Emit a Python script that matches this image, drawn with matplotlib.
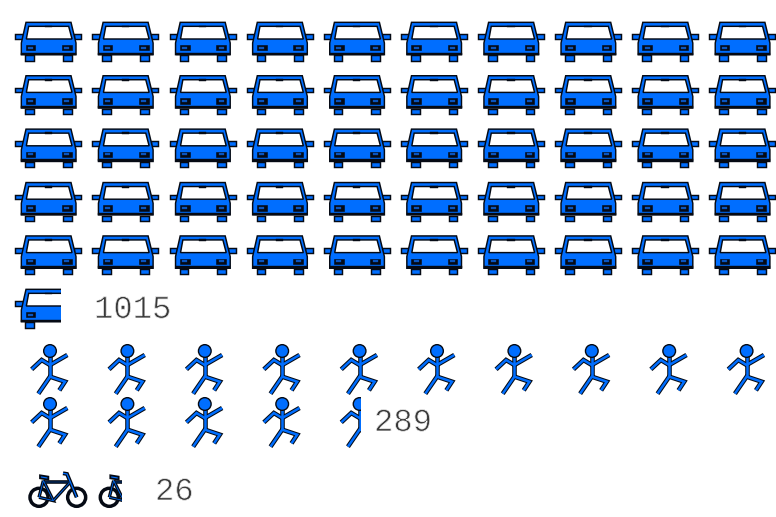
import matplotlib
matplotlib.use("Agg")
import matplotlib.pyplot as plt
import matplotlib.patheffects as pe
from matplotlib.patches import Polygon, Rectangle, Circle
from matplotlib.transforms import Affine2D

categories = ["car", "pedestrian", "bicycle"]
values = [1015, 289, 26]
units_per_icon = 20

BLUE = "#006EFF"
INK = "#050A14"
TEXT = "#3A3A3A"

fig = plt.figure(figsize=(7.76, 5.17), dpi=100)
ax = fig.add_axes([0, 0, 1, 1])
ax.set_xlim(0, 776)
ax.set_ylim(517, 0)
ax.axis("off")


def clipper(x_end):
    return Rectangle((0, 0), x_end, 517, transform=ax.transData)


def add_poly(pts, tr, clip, fc=BLUE, ec=INK, lw=1.5, z=2):
    p = Polygon(pts, closed=True, fc=fc, ec=ec, lw=lw, transform=tr, zorder=z, joinstyle="miter")
    ax.add_patch(p)
    p.set_clip_path(clipper(clip))


def add_line(pts, tr, clip, lw_out=3.3, lw_in=1.8):
    xs, ys = zip(*pts)
    for lw, c, z in ((lw_out, INK, 3), (lw_in, BLUE, 4)):
        ln, = ax.plot(xs, ys, color=c, lw=lw, transform=tr, zorder=z,
                      solid_capstyle="butt", solid_joinstyle="miter")
        ln.set_clip_path(clipper(clip))


def box(x0, y0, x1, y1):
    return [(x0, y0), (x1, y0), (x1, y1), (x0, y1)]


def car(x, y, clip):
    # drawn in 3x units, origin at the icon's top-left corner
    tr = Affine2D().scale(1 / 3).translate(x, y) + ax.transData
    lw = 1.05
    for b in (box(31, 100, 57, 116), box(144, 100, 170, 116),
              box(1, 37, 24, 51), box(176, 37, 199, 51)):
        add_poly(b, tr, clip, lw=lw)
    add_poly([(33, 1), (168, 1), (183, 63), (183, 98), (19, 98), (19, 63)], tr, clip, lw=lw)
    add_poly([(41, 13), (161, 13), (171, 51), (34, 51)], tr, clip, fc="white", lw=lw)
    add_poly(box(89, 11, 111, 16), tr, clip, fc=INK, ec=INK, lw=0.3, z=3)
    add_poly(box(32, 69, 61, 85), tr, clip, fc=INK, lw=0.4, z=3)
    add_poly(box(141, 69, 170, 85), tr, clip, fc=INK, lw=0.4, z=3)
    add_poly(box(39, 74, 54, 80), tr, clip, fc="#0A55C0", ec="#0A55C0", lw=0.2, z=3)
    add_poly(box(148, 74, 163, 80), tr, clip, fc="#0A55C0", ec="#0A55C0", lw=0.2, z=3)
    add_poly(box(19, 92, 183, 98), tr, clip, fc=INK, ec=INK, lw=0.3, z=3)


def person(x, y, clip):
    # (x, y) is the head centre, drawn in 3x units
    tr = Affine2D().scale(1 / 3).translate(x, y) + ax.transData
    add_line([(0, 15), (0, 77)], tr, clip)
    add_line([(-55, 55), (-25, 27), (0, 42), (52, 12)], tr, clip)
    add_line([(-35, 128), (0, 77), (45, 92), (28, 118)], tr, clip)
    c = Circle((0, 0), 19, fc=BLUE, ec=INK, lw=1.0, transform=tr, zorder=5)
    ax.add_patch(c)
    c.set_clip_path(clipper(clip))


def bike(x, y, clip):
    # (x, y) is the rear axle, drawn in 3x units
    tr = Affine2D().scale(1 / 3).translate(x, y) + ax.transData
    for cx, cy in [(0, 0), (113, 0)]:
        c = Circle((cx, cy), 27, fc="white", ec=INK, lw=2.5, transform=tr, zorder=3)
        ax.add_patch(c)
        c.set_clip_path(clipper(clip))
    kw = dict(lw_out=2.4, lw_in=0.55)
    add_line([(0, 0), (13, -50)], tr, clip, **kw)
    add_line([(13, -50), (43, 10), (0, 0)], tr, clip, **kw)
    add_line([(43, 10), (92, -44)], tr, clip, **kw)
    add_line([(13, -47), (90, -47)], tr, clip, lw_out=2.6, lw_in=0.3)
    add_line([(113, 0), (84, -70), (72, -72)], tr, clip, lw_out=2.8, lw_in=0.9)
    add_poly([(3, -66), (28, -62), (28, -53), (3, -57)], tr, clip, lw=1.3, z=6)


# icon counts come from the values
full_cars = values[0] // units_per_icon
part_car = values[0] / units_per_icon - full_cars
for i in range(full_cars + 1):
    r, c = divmod(i, 10)
    x = 15 + 77.1 * c
    y = 22 + 53.4 * r
    clip = x + 61.3 * part_car if i == full_cars else 776
    car(x, y, clip)

full_p = values[1] // units_per_icon
part_p = values[1] / units_per_icon - full_p
for i in range(full_p + 1):
    r, c = divmod(i, 10)
    x = 50 + 77.4 * c
    y = 351 + 53 * r
    clip = x - 18 + 42 * part_p if i == full_p else 776
    person(x, y, clip)

full_b = values[2] // units_per_icon
part_b = values[2] / units_per_icon - full_b
for i in range(full_b + 1):
    x = 39 + 70.3 * i
    clip = x - 11 + 80 * part_b if i == full_b else 776
    bike(x, 497.3, clip)

label_pos = [(94, 310), (374, 423), (155, 492)]
for v, (x, y) in zip(values, label_pos):
    t = ax.text(x, y, str(v), family="Liberation Mono", fontsize=23.2, color=TEXT,
                ha="left", va="center")
    t.set_path_effects([pe.Normal(), pe.Stroke(linewidth=0.55, foreground="white")])

fig.savefig("out.png", dpi=100)
